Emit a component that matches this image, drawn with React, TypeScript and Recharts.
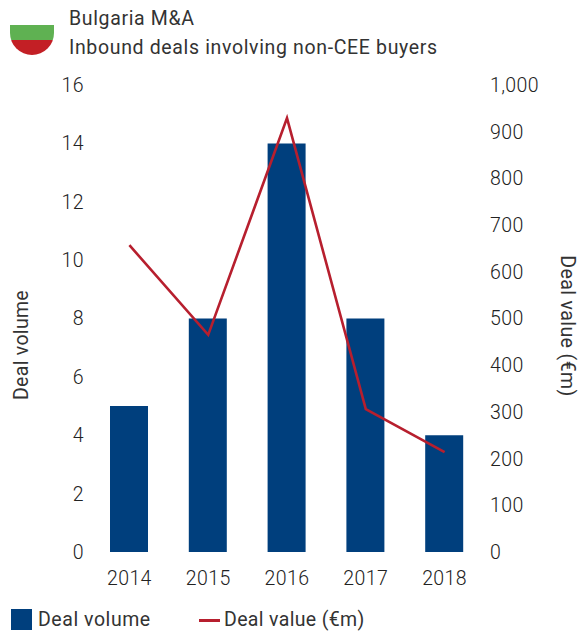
import React from 'react';
import { ComposedChart, Bar, Line, XAxis, YAxis } from 'recharts';

const years = ['2014', '2015', '2016', '2017', '2018'];
const dealVolume = [5, 8, 14, 8, 4];
const dealValue = [657, 465, 929, 306, 214];
const volumeTicks = [0, 2, 4, 6, 8, 10, 12, 14, 16];
const valueTicks = [0, 100, 200, 300, 400, 500, 600, 700, 800, 900, 1000];

const data = years.map((year, i) => ({ year, volume: dealVolume[i], value: dealValue[i] }));

const FONT = 'Roboto, sans-serif';
const TEXT = '#333333';
const BLUE = '#003f7d';
const RED = '#b71f2e';

const tickStyle = { fontSize: 19.5, fontWeight: 300, fill: '#222222', fontFamily: FONT, letterSpacing: 0.4 };

const text = (left: number, top: number, value: string, extra: React.CSSProperties = {}) => (
  <div style={{ position: 'absolute', left, top, fontSize: 19.5, lineHeight: '24px', color: TEXT, whiteSpace: 'nowrap', ...extra }}>
    {value}
  </div>
);

export default function App() {
  return (
    <div style={{ position: 'absolute', left: 0, top: 0, width: 578, height: 632, background: '#fff', fontFamily: FONT, overflow: 'hidden' }}>
      {/* flag */}
      <div style={{ position: 'absolute', left: 10, top: 25, width: 44, height: 30, borderRadius: '0 0 22px 22px', overflow: 'hidden' }}>
        <div style={{ height: 15, background: '#5fb152' }} />
        <div style={{ height: 15, background: '#c31f25' }} />
      </div>
      {text(69, 7, 'Bulgaria M&A', { letterSpacing: 0.65 })}
      {text(69, 36, 'Inbound deals involving non-CEE buyers', { letterSpacing: 0.65 })}

      <ComposedChart
        width={578}
        height={632}
        data={data}
        barCategoryGap={0}
        margin={{ top: 85, right: 34, bottom: 40, left: 30 }}
        style={{ position: 'absolute', left: 0, top: 0 }}
      >
        <XAxis
          dataKey="year"
          axisLine={false}
          tickLine={false}
          height={40}
          tickMargin={13}
          tick={tickStyle}
          interval={0}
        />
        <YAxis
          yAxisId="left"
          width={60}
          domain={[0, 16]}
          ticks={volumeTicks}
          interval={0}
          axisLine={false}
          tickLine={false}
          tickMargin={0}
          tick={tickStyle}
        />
        <YAxis
          yAxisId="right"
          orientation="right"
          width={60}
          domain={[0, 1000]}
          ticks={valueTicks}
          interval={0}
          axisLine={false}
          tickLine={false}
          tickMargin={0}
          tick={tickStyle}
          tickFormatter={(v: number) => v.toLocaleString('en-US')}
        />
        <Bar yAxisId="left" dataKey="volume" fill={BLUE} barSize={38} isAnimationActive={false} />
        <Line
          yAxisId="right"
          dataKey="value"
          stroke={RED}
          strokeWidth={2.6}
          dot={false}
          type="linear"
          isAnimationActive={false}
        />
      </ComposedChart>

      {/* rotated axis titles */}
      {text(22, 345, 'Deal volume', { transform: 'translate(-50%, -50%) rotate(-90deg)', letterSpacing: 0.3 })}
      {text(567, 326, 'Deal value (€m)', { transform: 'translate(-50%, -50%) rotate(90deg)', letterSpacing: 0.4 })}

      {/* legend */}
      <div style={{ position: 'absolute', left: 11, top: 609, width: 21, height: 21, background: BLUE }} />
      {text(38, 608, 'Deal volume', { letterSpacing: 0.55 })}
      <div style={{ position: 'absolute', left: 199, top: 619, width: 21, height: 3, background: RED }} />
      {text(224, 608, 'Deal value (€m)', { letterSpacing: 0.35 })}
    </div>
  );
}
